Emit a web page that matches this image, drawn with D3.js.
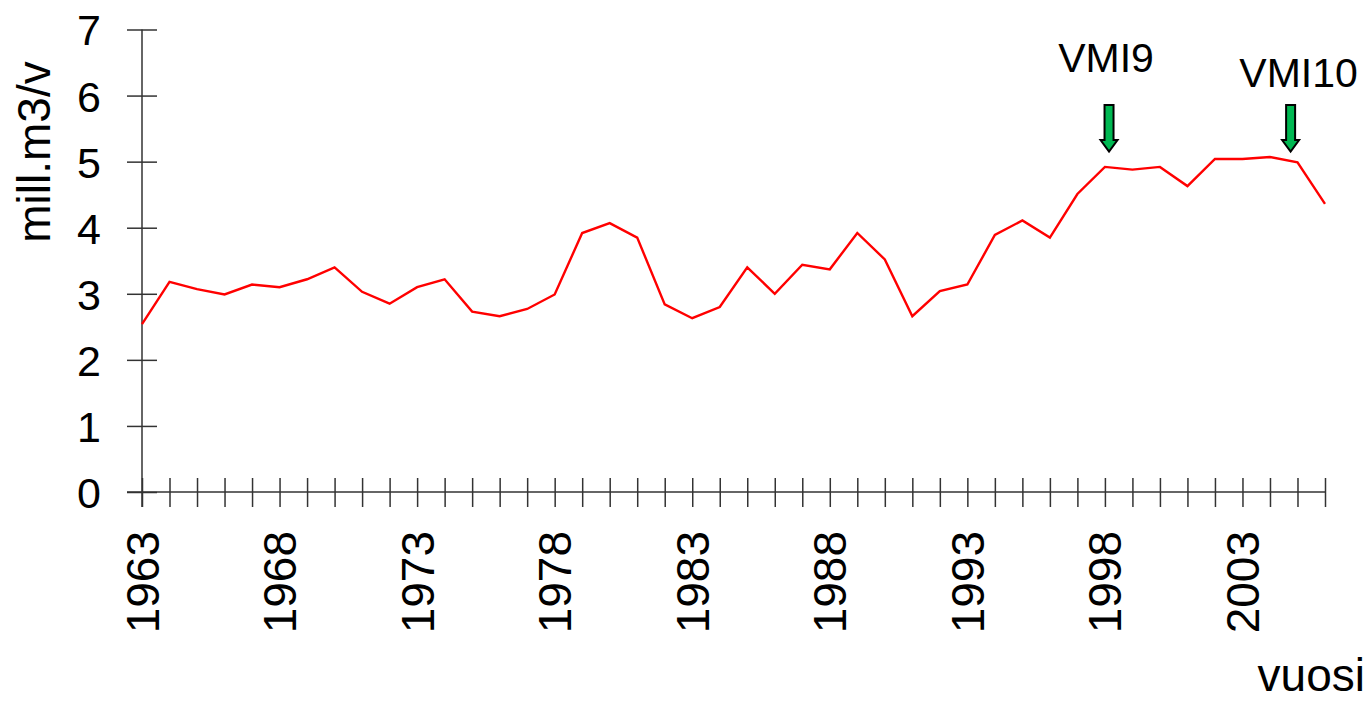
<!DOCTYPE html>
<html lang="fi">
<head>
    <meta charset="UTF-8">
    <title>Hakkuukertymä</title>
    <script src="https://d3js.org/d3.v7.min.js"></script>
    <style>
        body {
            margin: 0;
            background: #fff;
            font-family: Arial, "Liberation Sans", sans-serif;
        }
        svg text {
            fill: #000;
        }
        .axis path, .axis line {
            stroke: #333;
            stroke-width: 1.5px;
        }
    </style>
</head>
<body>
    <svg width="1372" height="702"></svg>

    <script>
        // data
        const years = d3.range(1963, 2007);
        const values = [2.54, 3.18, 3.07, 2.99, 3.14, 3.10, 3.22, 3.40, 3.03, 2.85,
                        3.10, 3.22, 2.73, 2.66, 2.77, 2.99, 3.92, 4.07, 3.85, 2.84,
                        2.63, 2.80, 3.40, 3.00, 3.44, 3.37, 3.92, 3.52, 2.66, 3.04,
                        3.14, 3.89, 4.11, 3.85, 4.51, 4.92, 4.88, 4.92, 4.63, 5.04,
                        5.04, 5.07, 4.99, 4.36];
        const yTicks = [0, 1, 2, 3, 4, 5, 6, 7];
        const labelYears = [1963, 1968, 1973, 1978, 1983, 1988, 1993, 1998, 2003];
        const markers = [
            {label: "VMI9", year: 1998.15},
            {label: "VMI10", year: 2004.75}
        ];

        const svg = d3.select("svg");

        const x = d3.scaleLinear().domain([1963, 2006]).range([142, 1325]);
        const y = d3.scaleLinear().domain([0, 7]).range([492, 29.5]);

        // y axis - ticks cross the axis line
        const yAxis = svg.append("g")
            .attr("class", "axis")
            .attr("transform", `translate(${x(1963)},0)`)
            .call(d3.axisLeft(y).tickValues(yTicks).tickSize(0).tickPadding(0).tickFormat(d3.format("d")));
        yAxis.select(".domain").attr("d", `M0,${y(7)}V${y(0) + 15}`);
        yAxis.selectAll(".tick line").attr("x1", -15).attr("x2", 15);
        yAxis.selectAll(".tick text")
            .attr("x", -41)
            .attr("dy", "0.36em")
            .style("font-size", "43px")
            .style("font-family", "Arial, 'Liberation Sans', sans-serif");

        // x axis - one tick per year, labels every fifth year
        const xAxis = svg.append("g")
            .attr("class", "axis")
            .attr("transform", `translate(0,${y(0)})`)
            .call(d3.axisBottom(x).tickValues(years).tickSize(0).tickFormat(""));
        xAxis.select(".domain").attr("d", `M${x(1963) - 15},0H${x(2006)}`);
        xAxis.selectAll(".tick line").attr("y1", -14).attr("y2", 15);

        svg.append("g")
            .selectAll("text")
            .data(labelYears)
            .enter().append("text")
            .attr("transform", d => `translate(${x(d)},${y(0) + 39}) rotate(-90)`)
            .attr("text-anchor", "end")
            .attr("dy", "0.36em")
            .style("font-size", "46px")
            .text(d => d);

        // line
        const line = d3.line()
            .x((d, i) => x(years[i]))
            .y(d => y(d));

        svg.append("path")
            .datum(values)
            .attr("fill", "none")
            .attr("stroke", "#ff0000")
            .attr("stroke-width", 2.4)
            .attr("stroke-linejoin", "miter")
            .attr("d", line);

        // VMI arrows
        const arrow = svg.append("g")
            .selectAll("g")
            .data(markers)
            .enter().append("g")
            .attr("transform", d => `translate(${x(d.year)},0)`);

        arrow.append("path")
            .attr("d", "M-4.5,105H4.5V140H8.5L0,151.5L-8.5,140H-4.5Z")
            .attr("fill", "#00b852")
            .attr("stroke", "#000")
            .attr("stroke-width", 2);

        svg.selectAll(".vmi")
            .data(markers)
            .enter().append("text")
            .attr("class", "vmi")
            .attr("x", (d, i) => x(d.year) + (i === 0 ? -3 : 8))
            .attr("y", (d, i) => i === 0 ? 72 : 87)
            .attr("text-anchor", "middle")
            .style("font-size", "41px")
            .text(d => d.label);

        // axis titles
        svg.append("text")
            .attr("transform", "translate(50,152) rotate(-90)")
            .attr("text-anchor", "middle")
            .style("font-size", "46px")
            .text("mill.m3/v");

        svg.append("text")
            .attr("x", 1365)
            .attr("y", 691)
            .attr("text-anchor", "end")
            .style("font-size", "46px")
            .text("vuosi");
    </script>
</body>
</html>
